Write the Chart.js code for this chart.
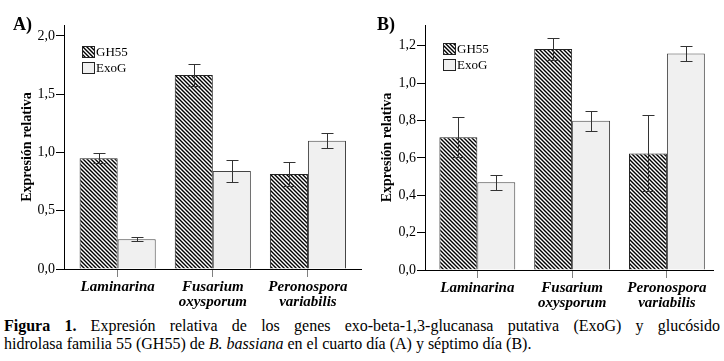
<!DOCTYPE html>
<html>
<head>
<meta charset="utf-8">
<script src="https://cdn.jsdelivr.net/npm/chart.js@4.4.0/dist/chart.umd.min.js"></script>
<style>
    body { margin: 0; width: 724px; height: 361px; background: #fff; position: relative; overflow: hidden; font-family: "Liberation Serif", serif; }
    .panel { position: absolute; top: 0; width: 362px; height: 312px; }
    #panelA { left: 0; }
    #panelB { left: 362px; }
    .tag { position: absolute; top: 14px; font: bold 18px "Liberation Serif", serif; }
    .caption { position: absolute; left: 4px; width: 716px; top: 317px; font-size: 16px; line-height: 18px; color: #000; }
    .l1 { text-align: justify; text-align-last: justify; }
</style>
</head>
<body>
<div class="panel" id="panelA"><canvas id="chartA" width="362" height="312"></canvas></div>
<div class="panel" id="panelB"><canvas id="chartB" width="362" height="312"></canvas></div>
<div class="tag" style="left:13px">A)</div>
<div class="tag" style="left:377px">B)</div>
<div class="caption">
    <div class="l1"><b>Figura 1.</b> Expresión relativa de los genes exo-beta-1,3-glucanasa putativa (ExoG) y glucósido</div>
    <div>hidrolasa familia 55 (GH55) de <i>B. bassiana</i> en el cuarto día (A) y séptimo día (B).</div>
</div>
<script>
const categories = [['Laminarina'], ['Fusarium', 'oxysporum'], ['Peronospora', 'variabilis']];
const seriesNames = ['GH55', 'ExoG'];

// panel A: cuarto dia
const gh55A = [0.95, 1.665, 0.815];
const gh55ErrA = [0.043, 0.093, 0.10];
const exogA = [0.255, 0.84, 1.10];
const exogErrA = [0.017, 0.095, 0.063];
const yTicksA = [0, 0.5, 1.0, 1.5, 2.0];

// panel B: septimo dia
const gh55B = [0.71, 1.183, 0.624];
const gh55ErrB = [0.107, 0.058, 0.203];
const exogB = [0.47, 0.798, 1.159];
const exogErrB = [0.04, 0.053, 0.041];
const yTicksB = [0, 0.2, 0.4, 0.6, 0.8, 1.0, 1.2];

const SERIF = '"Liberation Serif", "Times New Roman", serif';

function hatchPattern() {
    const tile = document.createElement('canvas');
    tile.width = 4;
    tile.height = 4;
    const g = tile.getContext('2d');
    g.fillStyle = '#fff';
    g.fillRect(0, 0, 4, 4);
    g.strokeStyle = '#000';
    g.lineWidth = 1.4;
    g.beginPath();
    g.moveTo(-1, -1); g.lineTo(5, 5);
    g.moveTo(-1, 3); g.lineTo(1, 5);
    g.moveTo(3, -1); g.lineTo(5, 1);
    g.stroke();
    return g.createPattern(tile, 'repeat');
}

const errorBars = {
    id: 'errorBars',
    afterDatasetsDraw(chart) {
        const ctx = chart.ctx;
        const y = chart.scales.y;
        ctx.save();
        ctx.strokeStyle = '#333';
        ctx.lineWidth = 1;
        chart.data.datasets.forEach((ds, di) => {
            chart.getDatasetMeta(di).data.forEach((bar, i) => {
                const v = ds.data[i].y;
                const e = ds.errors[i];
                const x = Math.round(bar.x) + 0.5;
                const top = Math.round(y.getPixelForValue(v + e)) + 0.5;
                const bot = Math.round(y.getPixelForValue(v - e)) + 0.5;
                ctx.beginPath();
                ctx.moveTo(x, top); ctx.lineTo(x, bot);
                ctx.moveTo(x - 6, top); ctx.lineTo(x + 6, top);
                ctx.moveTo(x - 6, bot); ctx.lineTo(x + 6, bot);
                ctx.stroke();
            });
        });
        ctx.restore();
    }
};

const boxLegend = {
    id: 'boxLegend',
    afterDraw(chart, args, opts) {
        const ctx = chart.ctx;
        const left = chart.chartArea.left + opts.x;
        let top = chart.chartArea.top + opts.y;
        ctx.save();
        ctx.font = '13px ' + SERIF;
        ctx.textBaseline = 'middle';
        chart.data.datasets.forEach(ds => {
            ctx.fillStyle = ds.backgroundColor;
            ctx.fillRect(left, top, 13, 12);
            ctx.strokeStyle = '#222';
            ctx.lineWidth = 1;
            ctx.strokeRect(left + 0.5, top + 0.5, 12, 11);
            ctx.fillStyle = '#000';
            ctx.fillText(ds.label, left + 14, top + 6.5);
            top += 16;
        });
        ctx.restore();
    }
};

function makeChart(id, gh55, gh55Err, exog, exogErr, yTicks, cfg) {
    const ctx = document.getElementById(id).getContext('2d');
    return new Chart(ctx, {
        type: 'bar',
        data: {
            datasets: [{
                label: seriesNames[0],
                data: gh55.map((v, i) => ({ x: i, y: v })),
                errors: gh55Err,
                backgroundColor: hatchPattern(),
                borderColor: '#222',
                borderWidth: 1,
                categoryPercentage: 0.8,
                barPercentage: 1.0
            }, {
                label: seriesNames[1],
                data: exog.map((v, i) => ({ x: i, y: v })),
                errors: exogErr,
                backgroundColor: '#f0f0f0',
                borderColor: '#444',
                borderWidth: 1,
                categoryPercentage: 0.8,
                barPercentage: 1.0
            }]
        },
        options: {
            responsive: false,
            animation: false,
            layout: { padding: { top: 25, left: 0, right: cfg.rightPad, bottom: 0 } },
            scales: {
                x: {
                    type: 'linear',
                    offset: false,
                    min: cfg.xMin,
                    max: cfg.xMax,
                    afterBuildTicks: s => { s.ticks = categories.map((_, i) => ({ value: i })); },
                    afterFit: s => { s.height = cfg.xHeight; },
                    ticks: {
                        autoSkip: false,
                        maxRotation: 0,
                        padding: 3,
                        color: '#000',
                        font: { family: SERIF, size: 15, weight: 'bold', style: 'italic', lineHeight: 1.0 },
                        callback: v => categories[v]
                    },
                    grid: { offset: false, drawOnChartArea: false, drawTicks: true, tickLength: 8, color: '#808080' },
                    border: { display: true, color: '#000', width: 1 }
                },
                y: {
                    min: 0,
                    max: cfg.yMax,
                    afterBuildTicks: s => { s.ticks = yTicks.map(v => ({ value: v })); },
                    afterFit: s => { s.width = cfg.axisWidth; },
                    ticks: {
                        padding: 1,
                        color: '#000',
                        font: { family: SERIF, size: 14 },
                        callback: v => v.toFixed(1).replace('.', ',')
                    },
                    grid: { drawOnChartArea: false, drawTicks: true, tickLength: 8, color: '#000' },
                    border: { display: true, color: '#000', width: 1 },
                    title: {
                        display: true,
                        text: 'Expresión relativa',
                        color: '#000',
                        font: { family: SERIF, size: 14, weight: 'bold' },
                        padding: { top: cfg.titlePad, bottom: 0 }
                    }
                }
            },
            plugins: {
                legend: { display: false },
                tooltip: { enabled: false },
                boxLegend: { x: 18, y: cfg.legendY }
            }
        },
        plugins: [errorBars, boxLegend]
    });
}

makeChart('chartA', gh55A, gh55ErrA, exogA, exogErrA, yTicksA, {
    yMax: 2.094, xMin: -0.564, xMax: 2.568, axisWidth: 64, titlePad: 18.6,
    rightPad: 0, xHeight: 43, legendY: 21
});
makeChart('chartB', gh55B, gh55ErrB, exogB, exogErrB, yTicksB, {
    yMax: 1.311, xMin: -0.552, xMax: 2.486, axisWidth: 63, titlePad: 16.6,
    rightPad: 11, xHeight: 42, legendY: 18
});
</script>
</body>
</html>
